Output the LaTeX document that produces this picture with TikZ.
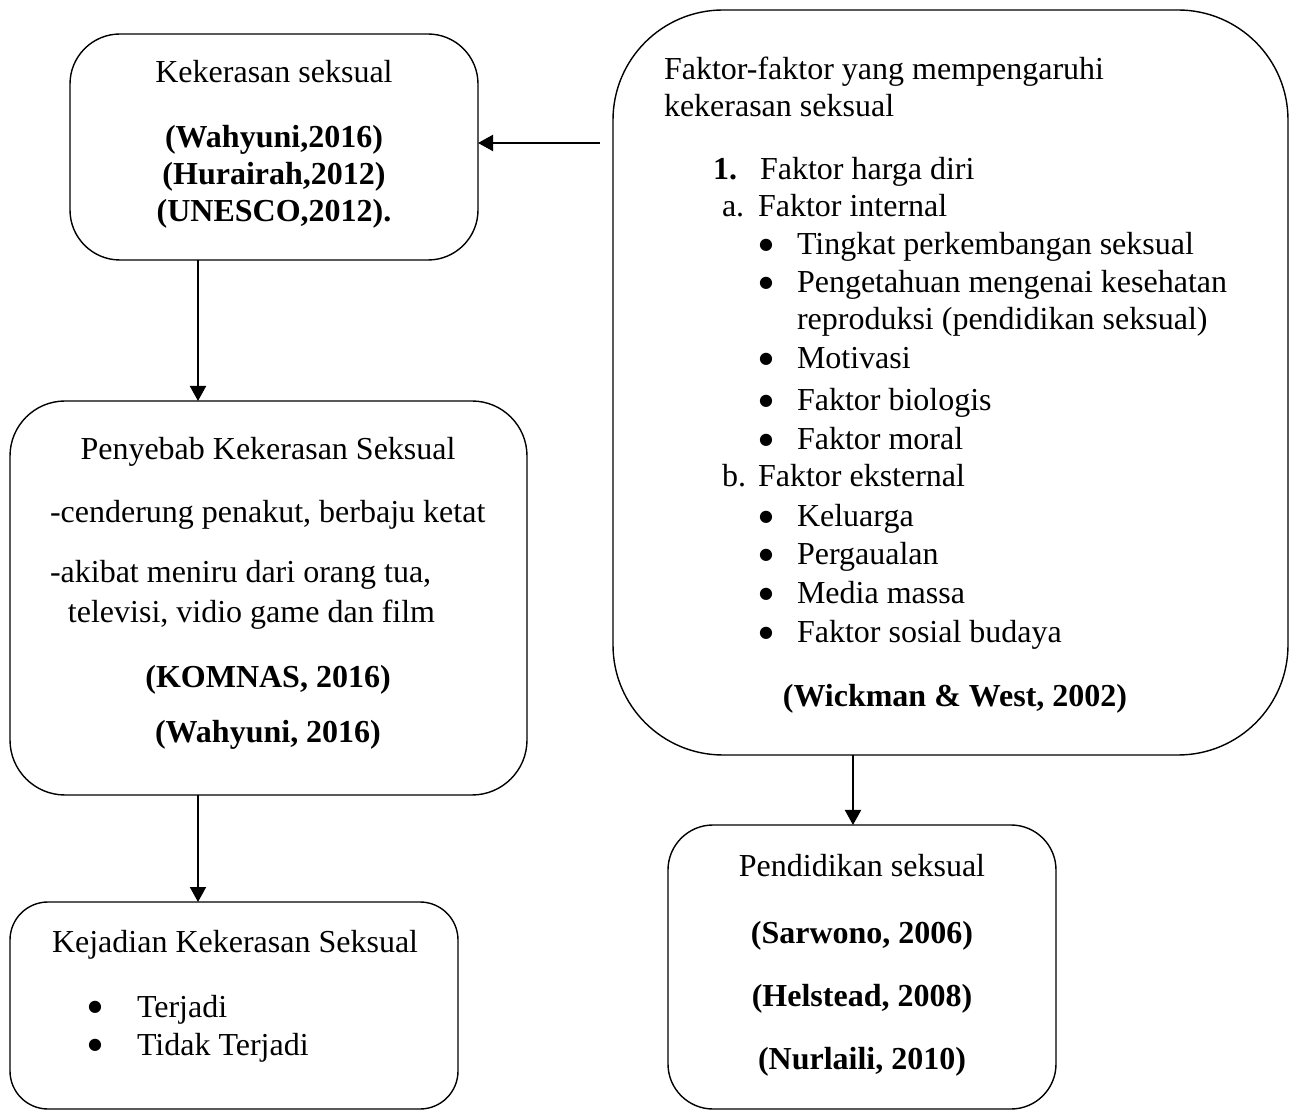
\documentclass[tikz,border=0pt]{standalone}
\usepackage{fontspec}
\setmainfont{Liberation Serif}
\newfontfamily\dejavu{DejaVu Sans}
\usetikzlibrary{arrows.meta,calc}
\newcommand{\bigbul}{{\dejavu\fontsize{8pt}{8pt}\selectfont ●}}
\begin{document}
\begin{tikzpicture}[x=0.5pt,y=-0.5pt,
  box/.style={draw, line width=0.7pt, rounded corners=#1, inner sep=0pt, outer sep=0pt},
  txt/.style={inner sep=0pt, outer sep=0pt, font=\fontsize{16pt}{18.75pt}\selectfont},
  lt/.style={txt, anchor=base west},
  ct/.style={txt, anchor=base},
  bul/.style={inner sep=0pt, outer sep=0pt, anchor=center},
  bt/.style={ct, font=\fontsize{16pt}{18.75pt}\selectfont\bfseries},
  blt/.style={lt, font=\fontsize{16pt}{18.75pt}\selectfont\bfseries},
  arr/.style={line width=1pt, -{Triangle[length=7.5pt,width=8pt]}}]
\useasboundingbox (0,0) rectangle (1296,1111);

% boxes
\node[box=25pt, minimum width=204pt, minimum height=113pt] (b1) at (274,147) {};
\node[box=27.5pt, minimum width=258.5pt, minimum height=197pt] (b2) at (268.5,598) {};
\node[box=19pt, minimum width=224pt, minimum height=103.5pt] (b3) at (234,1005.5) {};
\node[box=55pt, minimum width=337.5pt, minimum height=372.5pt] (b5) at (950.5,382.5) {};
\node[box=22.5pt, minimum width=194pt, minimum height=142pt] (b4) at (862,967) {};

% box 1 text
\node[ct] (t1) at (274,83) {Kekerasan seksual};
\node[bt] (t2) at (274,148) {(Wahyuni,2016)};
\node[bt] (t3) at (274,185) {(Hurairah,2012)};
\node[bt] (t4) at (274,222) {(UNESCO,2012).};

% right box text
\node[lt] (r1) at (664,80) {Faktor-faktor yang mempengaruhi};
\node[lt] (r2) at (664,117) {kekerasan seksual};
\node[blt] (r3n) at (713,180) {1.};
\node[lt] (r3) at (760,180) {Faktor harga diri};
\node[lt] (r4n) at (722,217) {a.};
\node[lt] (r4) at (758,217) {Faktor internal};
\node[bul] (r5b) at (766,245) {\bigbul};
\node[lt] (r5) at (797,255) {Tingkat perkembangan seksual};
\node[bul] (r6b) at (766,283) {\bigbul};
\node[lt] (r6) at (797,293) {Pengetahuan mengenai kesehatan};
\node[lt] (r7) at (797,330) {reproduksi (pendidikan seksual)};
\node[bul] (r8b) at (766,359) {\bigbul};
\node[lt] (r8) at (797,369) {Motivasi};
\node[bul] (r9b) at (766,401) {\bigbul};
\node[lt] (r9) at (797,411) {Faktor biologis};
\node[bul] (r10b) at (766,440) {\bigbul};
\node[lt] (r10) at (797,450) {Faktor moral};
\node[lt] (r11n) at (722,487) {b.};
\node[lt] (r11) at (758,487) {Faktor eksternal};
\node[bul] (r12b) at (766,517) {\bigbul};
\node[lt] (r12) at (797,527) {Keluarga};
\node[bul] (r13b) at (766,555) {\bigbul};
\node[lt] (r13) at (797,565) {Pergaualan};
\node[bul] (r14b) at (766,594) {\bigbul};
\node[lt] (r14) at (797,604) {Media massa};
\node[bul] (r15b) at (766,633) {\bigbul};
\node[lt] (r15) at (797,643) {Faktor sosial budaya};
\node[bt] (r16) at (955,707) {(Wickman \& West, 2002)};

% box 2 text
\node[ct] (p1) at (268,460) {Penyebab Kekerasan Seksual};
\node[lt] (p2) at (50,523) {-cenderung penakut, berbaju ketat};
\node[lt] (p3) at (50,583) {-akibat meniru dari orang tua,};
\node[lt] (p4) at (68,623) {televisi, vidio game dan film};
\node[bt] (p5) at (268,688) {(KOMNAS, 2016)};
\node[bt] (p6) at (268,743) {(Wahyuni, 2016)};

% box 3 text
\node[lt] (k1) at (52,952) {Kejadian Kekerasan Seksual};
\node[bul] (k2b) at (95,1007) {\bigbul};
\node[lt] (k2) at (137,1017) {Terjadi};
\node[bul] (k3b) at (95,1045) {\bigbul};
\node[lt] (k3) at (137,1055) {Tidak Terjadi};

% box 4 text
\node[ct] (e1) at (862,877) {Pendidikan seksual};
\node[bt] (e2) at (862,943) {(Sarwono, 2006)};
\node[bt] (e3) at (862,1006) {(Helstead, 2008)};
\node[bt] (e4) at (862,1069) {(Nurlaili, 2010)};

% connectors
\coordinate (s1) at (600,143);
\coordinate (c1) at (198,0);
\coordinate (c2) at (853,0);
\draw[arr] (s1) -- (b1.east |- s1);
\draw[arr] (b1.south -| c1) -- (b2.north -| c1);
\draw[arr] (b2.south -| c1) -- (b3.north -| c1);
\draw[arr] (b5.south -| c2) -- (b4.north -| c2);
\end{tikzpicture}
\end{document}
